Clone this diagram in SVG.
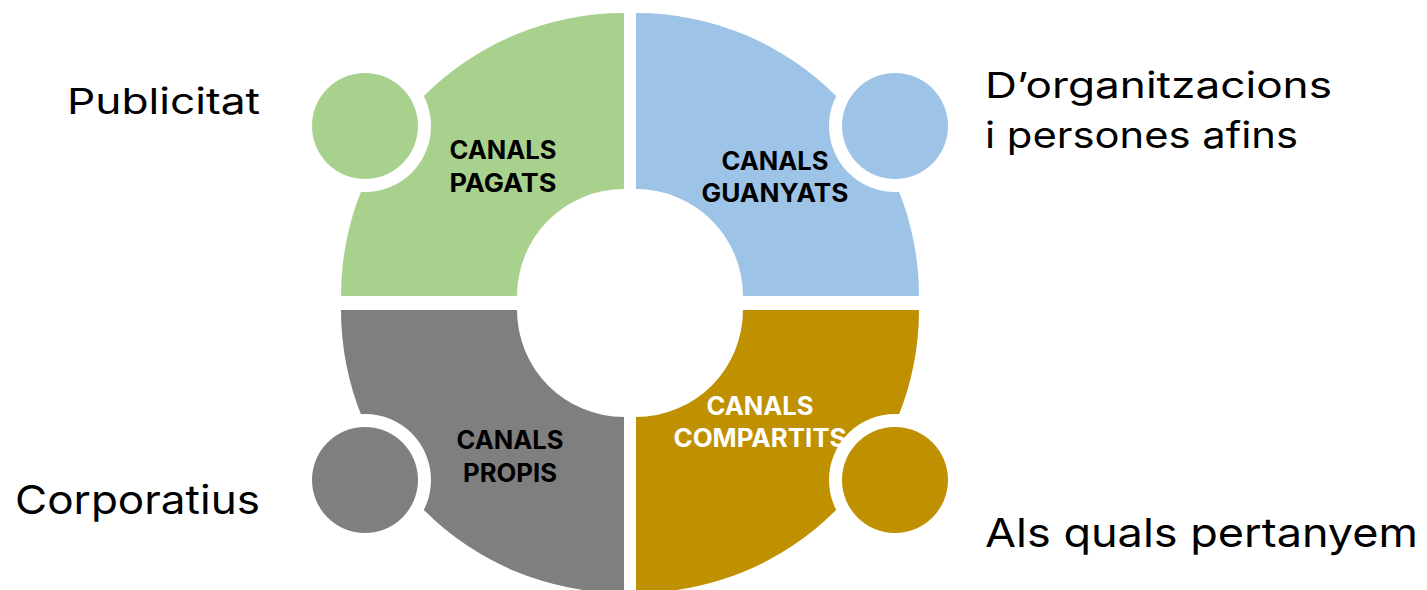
<svg xmlns="http://www.w3.org/2000/svg" width="1427" height="590" viewBox="0 0 1427 590">
  <style>
    .head { font-family: Inter, "Liberation Sans", "DejaVu Sans", sans-serif; font-weight: 700; font-size: 25px; text-anchor: middle; }
    .side { font-family: Inter, "Liberation Sans", "DejaVu Sans", sans-serif; font-weight: 400; font-size: 40px; fill: #000; }
    .side.small { font-size: 36px; }
    .gap { fill: #FFFFFF; }
    .paid { fill: #A9D18E; }
    .earned { fill: #9DC3E6; }
    .owned { fill: #7F7F7F; }
    .shared { fill: #BF9000; }
  </style>
  <rect width="1427" height="590" fill="#FFFFFF"/>

  <!-- Paid channels: top-left quarter ring -->
  <g id="canals-pagats">
    <path class="paid" d="M 624 13 L 624 189 A 107 107 0 0 0 517 296 L 341 296 A 283 283 0 0 1 624 13 Z"/>
    <circle class="gap" cx="365" cy="126" r="66"/>
    <circle class="paid" cx="365" cy="126" r="53"/>
    <text class="head" fill="#000" x="503" y="159" textLength="107" lengthAdjust="spacingAndGlyphs">CANALS</text>
    <text class="head" fill="#000" x="503" y="192" textLength="107" lengthAdjust="spacingAndGlyphs">PAGATS</text>
    <text class="side small" x="67" y="114" textLength="193" lengthAdjust="spacingAndGlyphs">Publicitat</text>
  </g>

  <!-- Earned channels: top-right quarter ring -->
  <g id="canals-guanyats">
    <path class="earned" d="M 636 13 A 283 283 0 0 1 919 296 L 743 296 A 107 107 0 0 0 636 189 Z"/>
    <circle class="gap" cx="895" cy="126" r="66"/>
    <circle class="earned" cx="895" cy="126" r="53"/>
    <text class="head" fill="#000" x="775" y="170" textLength="107" lengthAdjust="spacingAndGlyphs">CANALS</text>
    <text class="head" fill="#000" x="775" y="202" textLength="147" lengthAdjust="spacingAndGlyphs">GUANYATS</text>
    <text class="side small" x="985" y="98" textLength="347" lengthAdjust="spacingAndGlyphs">D’organitzacions</text>
    <text class="side small" x="985" y="148" textLength="313" lengthAdjust="spacingAndGlyphs">i persones afins</text>
  </g>

  <!-- Owned channels: bottom-left quarter ring -->
  <g id="canals-propis">
    <path class="owned" d="M 341 310 L 517 310 A 107 107 0 0 0 624 417 L 624 593 A 283 283 0 0 1 341 310 Z"/>
    <circle class="gap" cx="365" cy="480" r="66"/>
    <circle class="owned" cx="365" cy="480" r="53"/>
    <text class="head" fill="#000" x="510" y="449" textLength="107" lengthAdjust="spacingAndGlyphs">CANALS</text>
    <text class="head" fill="#000" x="510" y="482" textLength="94" lengthAdjust="spacingAndGlyphs">PROPIS</text>
    <text class="side" x="15" y="514" textLength="245" lengthAdjust="spacingAndGlyphs">Corporatius</text>
  </g>

  <!-- Shared channels: bottom-right quarter ring -->
  <g id="canals-compartits">
    <path class="shared" d="M 743 310 L 919 310 A 283 283 0 0 1 636 593 L 636 417 A 107 107 0 0 0 743 310 Z"/>
    <text class="head" fill="#FFFFFF" x="760" y="415" textLength="107" lengthAdjust="spacingAndGlyphs">CANALS</text>
    <text class="head" fill="#FFFFFF" x="760" y="447" textLength="173" lengthAdjust="spacingAndGlyphs">COMPARTITS</text>
    <circle class="gap" cx="895" cy="480" r="66"/>
    <circle class="shared" cx="895" cy="480" r="53"/>
    <text class="side" x="985" y="547" textLength="433" lengthAdjust="spacingAndGlyphs">Als quals pertanyem</text>
  </g>
</svg>
